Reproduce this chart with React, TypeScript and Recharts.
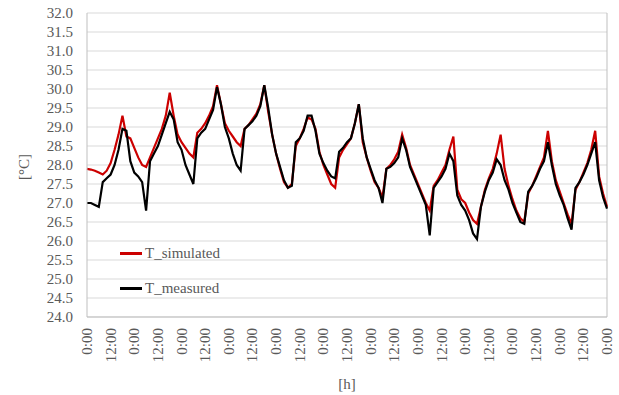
import React from 'react';
import { LineChart, Line, XAxis, YAxis, CartesianGrid, Legend, ReferenceLine } from 'recharts';

// 2-hour samples, 0 h .. 264 h (11 days)
const simulated = [
  27.9, 27.88, 27.85, 27.8, 27.75, 27.85, 28.05, 28.4, 28.8, 29.3, 28.75, 28.7,
  28.45, 28.2, 28.0, 27.95, 28.2, 28.45, 28.7, 28.95, 29.3, 29.9, 29.3, 28.8,
  28.6, 28.45, 28.3, 28.2, 28.85, 28.95, 29.1, 29.3, 29.55, 30.1, 29.6, 29.1,
  28.9, 28.75, 28.6, 28.5, 28.95, 29.05, 29.2, 29.35, 29.6, 30.1, 29.4, 28.8,
  28.3, 27.9, 27.55, 27.4, 27.5, 28.5, 28.7, 28.95, 29.25, 29.2, 28.95, 28.35,
  28.0, 27.75, 27.5, 27.4, 28.2, 28.4, 28.55, 28.7, 29.1, 29.6, 28.6, 28.2,
  27.85, 27.55, 27.4, 27.15, 27.9, 28.0, 28.15, 28.35, 28.8, 28.45, 28.0, 27.75,
  27.5, 27.25, 27.0, 26.8, 27.45, 27.6, 27.8, 28.0, 28.4, 28.75, 27.35, 27.1,
  27.0, 26.75, 26.55, 26.45, 26.9, 27.35, 27.65, 27.9, 28.3, 28.8, 27.9, 27.45,
  27.1, 26.8, 26.6, 26.5, 27.25, 27.45, 27.7, 27.95, 28.2, 28.9, 28.1, 27.6,
  27.3, 27.0, 26.7, 26.45, 27.35, 27.55, 27.8, 28.05, 28.4, 28.9, 27.7, 27.25, 26.9,
];

const measured = [
  27.0, 27.0, 26.95, 26.9, 27.55, 27.65, 27.75, 28.0, 28.4, 28.95, 28.9, 28.1,
  27.8, 27.7, 27.55, 26.8, 28.1, 28.3, 28.5, 28.8, 29.1, 29.4, 29.2, 28.6,
  28.4, 28.0, 27.75, 27.5, 28.7, 28.85, 28.95, 29.2, 29.45, 30.05, 29.6, 29.0,
  28.7, 28.3, 28.0, 27.85, 28.95, 29.05, 29.15, 29.3, 29.55, 30.1, 29.5, 28.8,
  28.3, 27.95, 27.6, 27.4, 27.45, 28.6, 28.7, 28.9, 29.3, 29.3, 28.9, 28.3,
  28.05, 27.85, 27.7, 27.65, 28.35, 28.45, 28.6, 28.7, 29.1, 29.6, 28.7, 28.2,
  27.9, 27.6, 27.4, 27.0, 27.9, 27.95, 28.05, 28.2, 28.7, 28.4, 27.95, 27.7,
  27.45, 27.2, 26.95, 26.15, 27.4, 27.55, 27.7, 27.9, 28.3, 28.1, 27.2, 26.95,
  26.8, 26.55, 26.2, 26.05, 26.9, 27.3, 27.6, 27.8, 28.15, 28.0, 27.6, 27.35,
  27.0, 26.75, 26.5, 26.45, 27.3, 27.45, 27.65, 27.9, 28.1, 28.6, 28.0, 27.5,
  27.2, 26.95, 26.6, 26.3, 27.4, 27.55, 27.75, 28.0, 28.3, 28.6, 27.6, 27.15, 26.85,
];

const hours = simulated.map((_, i) => i * 2);

const seriesNames = ['T_simulated', 'T_measured'];
const tickHours = [0, 12, 24, 36, 48, 60, 72, 84, 96, 108, 120, 132, 144, 156, 168, 180, 192, 204, 216, 228, 240, 252, 264];
const yTicks = [24, 24.5, 25, 25.5, 26, 26.5, 27, 27.5, 28, 28.5, 29, 29.5, 30, 30.5, 31, 31.5, 32];

const data = hours.map((h, i) => ({ h, sim: simulated[i], meas: measured[i] }));

const FONT = '"Liberation Serif", "Times New Roman", serif';
const GREY = '#595959';

function HourTick({ x, y, payload }: any) {
  return (
    <text
      x={x}
      y={y}
      transform={`rotate(-90 ${x} ${y})`}
      textAnchor="end"
      dominantBaseline="central"
      fontFamily={FONT}
      fontSize={15}
      fill={GREY}
    >
      {payload.value % 24 === 0 ? '0:00' : '12:00'}
    </text>
  );
}

function LegendBox({ payload }: any) {
  const items = [...(payload || [])].sort(
    (a: any, b: any) => seriesNames.indexOf(a.value) - seriesNames.indexOf(b.value)
  );
  return (
    <div style={{ fontFamily: FONT, fontSize: 15, color: GREY }}>
      {items.map((p: any) => (
        <div key={p.value} style={{ display: 'flex', alignItems: 'center', height: 20, marginBottom: 15 }}>
          <span style={{ display: 'inline-block', width: 22, height: 3, background: p.color, marginRight: 3 }} />
          {p.value}
        </div>
      ))}
    </div>
  );
}

export default function App() {
  return (
    <div style={{ position: 'absolute', left: 0, top: 0, background: '#fff' }}>
      <LineChart width={619} height={395} data={data} margin={{ top: 13, right: 12, left: 0, bottom: 0 }}>
        <CartesianGrid vertical={false} stroke="#d9d9d9" />
        <XAxis
          dataKey="h"
          type="number"
          domain={[0, 264]}
          ticks={tickHours}
          interval={0}
          tick={<HourTick />}
          tickLine={false}
          tickSize={0}
          tickMargin={11}
          height={78}
          stroke="#bfbfbf"
          label={{ value: '[h]', position: 'insideBottom', offset: 6, fontFamily: FONT, fontSize: 15, fill: GREY }}
        />
        <YAxis
          type="number"
          domain={[24, 32]}
          ticks={yTicks}
          interval={0}
          width={87}
          tickLine={false}
          tickSize={0}
          tickMargin={14}
          stroke="#bfbfbf"
          tickFormatter={(v: number) => v.toFixed(1)}
          tick={{ fontFamily: FONT, fontSize: 15, fill: GREY }}
          label={{
            content: () => (
              <text x={24} y={167} transform="rotate(-90 24 167)" textAnchor="middle" dominantBaseline="central" fontFamily={FONT} fontSize={15} fill={GREY}>
                [°C]
              </text>
            ),
          }}
        />
        <ReferenceLine x={264} stroke="#bfbfbf" />
        <Legend
          layout="horizontal"
          verticalAlign="middle"
          align="center"
          content={<LegendBox />}
          wrapperStyle={{ position: 'absolute', left: 120, top: 243, width: 140, height: 70 }}
        />
        <Line dataKey="sim" name="T_simulated" stroke="#cc0000" strokeWidth={2.2} dot={false} isAnimationActive={false} />
        <Line dataKey="meas" name="T_measured" stroke="#000000" strokeWidth={2.2} dot={false} isAnimationActive={false} />
      </LineChart>
    </div>
  );
}
